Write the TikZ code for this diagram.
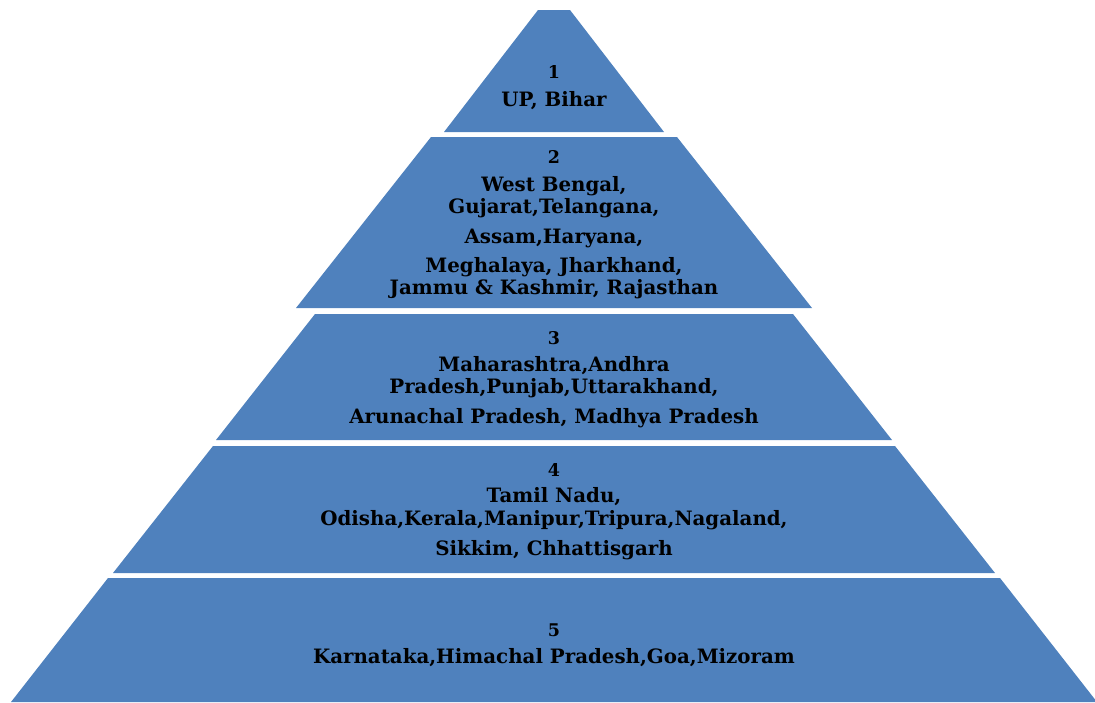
\documentclass[tikz,border=0pt]{standalone}
\usepackage{fontspec}
\setmainfont{DejaVu Serif}
\definecolor{layerblue}{HTML}{4F81BD}
\tikzset{
  layer/.style={fill=layerblue, draw=none},
  statetxt/.style={font=\bfseries\fontsize{19.8}{22}\selectfont, text=black, inner sep=0pt, anchor=center},
  numtxt/.style={font=\bfseries\fontsize{17.5}{19}\selectfont, text=black, inner sep=0pt, anchor=center}
}
\begin{document}
\begin{tikzpicture}[x=1pt,y=-1pt]
\useasboundingbox (0,0) rectangle (1095,702);
\def\cx{554}
% layers
\fill[layer] (\cx-16,10) -- (\cx+16,10) -- (\cx+110,132) -- (\cx-110,132) -- cycle;
\fill[layer] (\cx-123,137) -- (\cx+123,137) -- (\cx+258,308) -- (\cx-258,308) -- cycle;
\fill[layer] (\cx-239,314) -- (\cx+239,314) -- (\cx+338,440) -- (\cx-338,440) -- cycle;
\fill[layer] (\cx-341,446) -- (\cx+341,446) -- (\cx+441,573) -- (\cx-441,573) -- cycle;
\fill[layer] (\cx-446,578) -- (\cx+446,578) -- (\cx+543,702) -- (\cx-543,702) -- cycle;
% layer 1
\node[numtxt] (n1) at (\cx,72) {1};
\node[statetxt] (s1a) at (\cx,101) {UP, Bihar};
% layer 2
\node[numtxt] (n2) at (\cx,157) {2};
\node[statetxt] (s2a) at (\cx,186) {West Bengal,};
\node[statetxt] (s2b) at (\cx,208) {Gujarat,Telangana,};
\node[statetxt] (s2c) at (\cx,238) {Assam,Haryana,};
\node[statetxt] (s2d) at (\cx,267) {Meghalaya, Jharkhand,};
\node[statetxt] (s2e) at (\cx,289) {Jammu \& Kashmir, Rajasthan};
% layer 3
\node[numtxt] (n3) at (\cx,338) {3};
\node[statetxt] (s3a) at (\cx,366) {Maharashtra,Andhra};
\node[statetxt] (s3b) at (\cx,388) {Pradesh,Punjab,Uttarakhand,};
\node[statetxt] (s3c) at (\cx,418) {Arunachal Pradesh, Madhya Pradesh};
% layer 4
\node[numtxt] (n4) at (\cx,470) {4};
\node[statetxt] (s4a) at (\cx,497) {Tamil Nadu,};
\node[statetxt] (s4b) at (\cx,520) {Odisha,Kerala,Manipur,Tripura,Nagaland,};
\node[statetxt] (s4c) at (\cx,550) {Sikkim, Chhattisgarh};
% layer 5
\node[numtxt] (n5) at (\cx,630) {5};
\node[statetxt] (s5a) at (\cx,658) {Karnataka,Himachal Pradesh,Goa,Mizoram};
\end{tikzpicture}
\end{document}
